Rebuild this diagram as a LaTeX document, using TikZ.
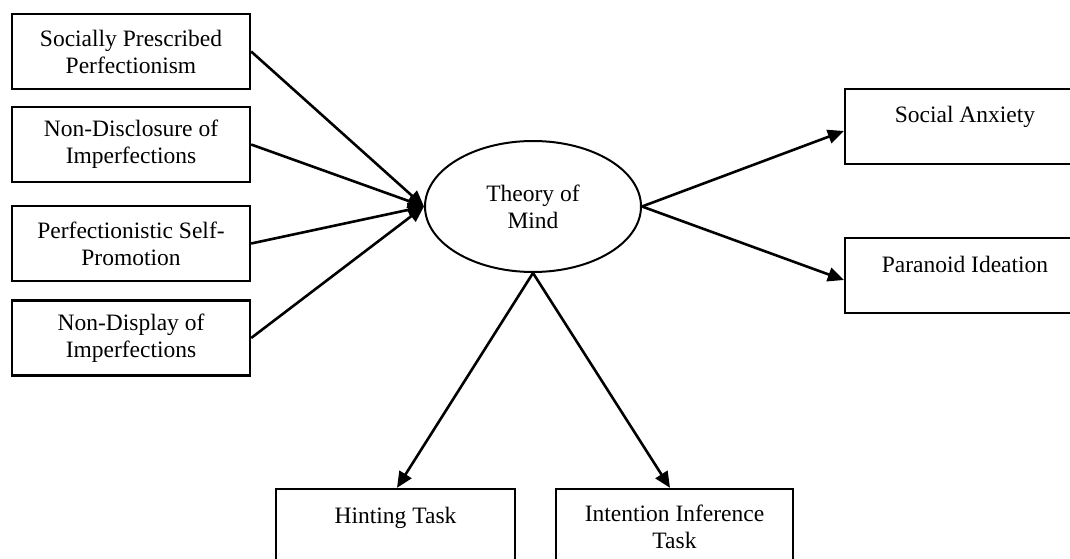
\documentclass[tikz,border=0pt]{standalone}
\usepackage{fontspec}
\setmainfont{Liberation Serif}
\usetikzlibrary{arrows.meta,shapes.geometric}
\begin{document}
\begin{tikzpicture}[x=1pt,y=-1pt,
  every node/.style={font=\fontsize{23.5}{27}\selectfont, align=center, inner sep=0pt},
  box/.style={draw, line width=2.3pt, minimum width=238pt, minimum height=75pt},
  topbox/.style={box, text height=34pt, text depth=41pt},
  ell/.style={draw, ellipse, line width=2pt, minimum width=216pt, minimum height=131pt},
  arr/.style={line width=2.6pt, -{Triangle[length=16pt,width=14pt]}}]
\useasboundingbox (0,0) rectangle (1070,559);
\clip (0,0) rectangle (1070,559);
\fill[white] (0,0) rectangle (1070,559);
\node[box] (spp) at (131,51.5) {Socially Prescribed\\Perfectionism};
\node[box] (ndi) at (131,144.5) {Non-Disclosure of\\Imperfections};
\node[box] (psp) at (131,243.5) {Perfectionistic Self-\\Promotion};
\node[box] (ndp) at (131,338) {Non-Display of\\Imperfections};
\node[ell] (tom) at (533,206.5) {Theory of\\Mind};
\node[topbox, minimum width=240pt] (sa) at (965,126.5) {Social Anxiety};
\node[topbox, minimum width=240pt] (pi) at (965,275.5) {Paranoid Ideation};
\node[topbox, minimum width=239pt] (ht) at (395.5,526.5) {Hinting Task};
\node[box, minimum width=237pt] (iit) at (674.5,526.5) {Intention Inference\\Task};
\draw[arr] (spp.east) -- (tom.west);
\draw[arr] (ndi.east) -- (tom.west);
\draw[arr] (psp.east) -- (tom.west);
\draw[arr] (ndp.east) -- (tom.west);
\draw[arr] (tom.east) -- ([yshift=-4.5pt]sa.west);
\draw[arr] (tom.east) -- ([yshift=-4.5pt]pi.west);
\draw[arr] (tom.south) -- ([xshift=1.5pt]ht.north);
\draw[arr] (tom.south) -- ([xshift=-4.5pt]iit.north);
\end{tikzpicture}
\end{document}
